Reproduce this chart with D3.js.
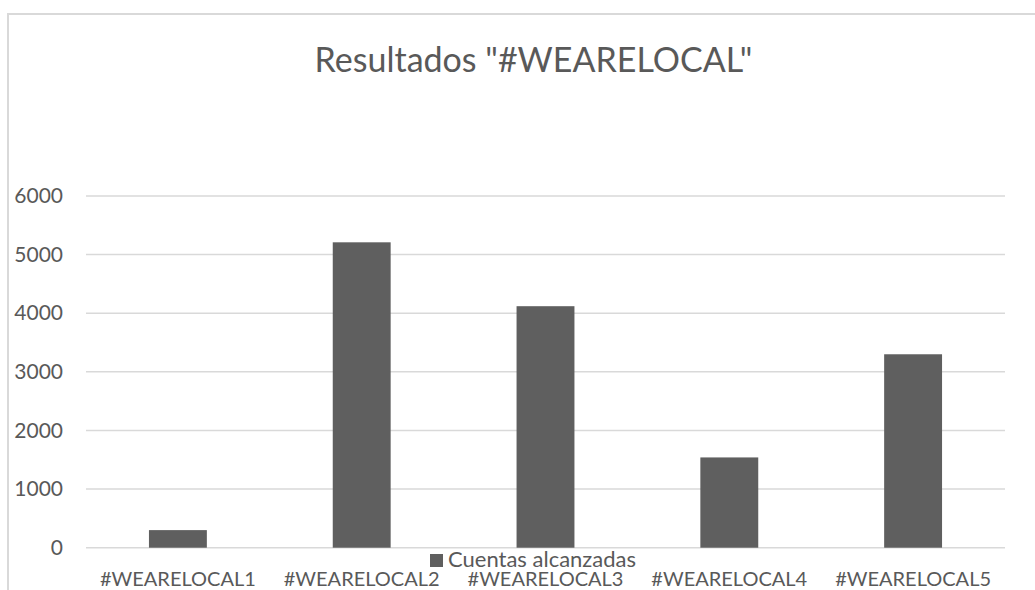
<!DOCTYPE html>
<html>
<head>
<meta charset="utf-8">
<script src="https://cdn.jsdelivr.net/npm/d3@7"></script>
<style>
  html, body { margin: 0; padding: 0; background: #fff; }
  svg { display: block; }
  text { font-family: Lato, "Open Sans", sans-serif; fill: #595959; }
</style>
</head>
<body>
<svg id="chart" width="1035" height="590"></svg>
<script>
const title = 'Resultados "#WEARELOCAL"';
const categories = ["#WEARELOCAL1", "#WEARELOCAL2", "#WEARELOCAL3", "#WEARELOCAL4", "#WEARELOCAL5"];
const seriesName = "Cuentas alcanzadas";
const values = [300, 5210, 4120, 1540, 3300];
const yTicks = [0, 1000, 2000, 3000, 4000, 5000, 6000];

const svg = d3.select("#chart");
const plot = { left: 86, right: 1005, top: 196, bottom: 547.7 };

// chart border
svg.append("path")
  .attr("d", "M8,600 L8,14 L1040,14")
  .attr("fill", "none").attr("stroke", "#d9d9d9").attr("stroke-width", 2);

const x = d3.scaleBand().domain(categories).range([plot.left, plot.right]).paddingInner(0.685).paddingOuter(0.3425);
const y = d3.scaleLinear().domain([0, 6000]).range([plot.bottom, plot.top]);

// gridlines
svg.append("g").selectAll("line").data(yTicks).join("line")
  .attr("x1", plot.left).attr("x2", plot.right)
  .attr("y1", d => y(d)).attr("y2", d => y(d))
  .attr("stroke", "#d9d9d9").attr("stroke-width", 1.5);

// y axis labels
const yAxis = d3.axisLeft(y).tickValues(yTicks).tickSize(0).tickPadding(23).tickFormat(d3.format("d"));
const yg = svg.append("g").attr("transform", `translate(${plot.left},0)`).call(yAxis);
yg.select(".domain").remove();
yg.selectAll("text").attr("font-size", 21).attr("fill", "#595959").attr("font-family", "Lato");

// bars
svg.append("g").selectAll("rect").data(values).join("rect")
  .attr("x", (d, i) => x(categories[i]))
  .attr("width", x.bandwidth())
  .attr("y", d => y(d))
  .attr("height", d => y(0) - y(d))
  .attr("fill", "#5f5f5f");

// x labels
const xAxis = d3.axisBottom(x).tickSize(0).tickPadding(0);
const xg = svg.append("g").attr("transform", `translate(0,${plot.bottom})`).call(xAxis);
xg.select(".domain").remove();
xg.selectAll("text").attr("font-size", 20).attr("fill", "#595959").attr("font-family", "Lato")
  .attr("dy", null).attr("y", 38.5);

// title
svg.append("text").attr("x", 533.5).attr("y", 72).attr("text-anchor", "middle")
  .attr("font-size", 34).text(title);

// legend
const lg = svg.append("g");
lg.append("rect").attr("x", 430).attr("y", 554).attr("width", 13).attr("height", 13).attr("fill", "#5f5f5f");
lg.append("text").attr("x", 448).attr("y", 567).attr("font-size", 22).text(seriesName);
</script>
</body>
</html>
